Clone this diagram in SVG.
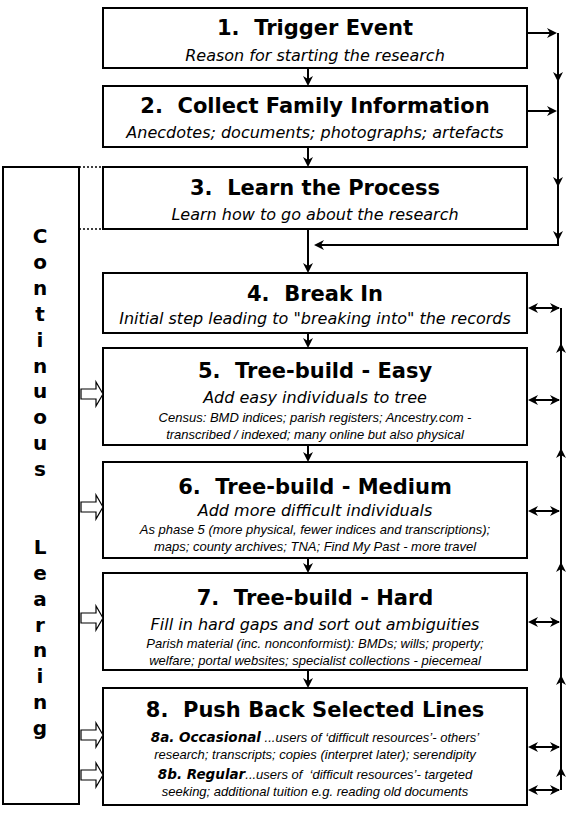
<svg xmlns="http://www.w3.org/2000/svg" xmlns:xlink="http://www.w3.org/1999/xlink" width="570" height="813" viewBox="0 0 570 813">
<style>
.box{fill:#fff;stroke:#000;stroke-width:2}
.t{font-family:"DejaVu Sans",Verdana,sans-serif;font-weight:bold;font-size:21px;text-anchor:middle;fill:#000;white-space:pre}
.s{font-family:"DejaVu Sans",Verdana,sans-serif;font-style:italic;font-size:16px;text-anchor:middle;fill:#000}
.d{font-family:"Liberation Sans",Arial,sans-serif;font-style:italic;font-size:13px;text-anchor:middle;fill:#000;white-space:pre}
.b{font-family:"DejaVu Sans",Verdana,sans-serif;font-style:italic;font-weight:bold;font-size:13.5px}
.v{font-family:"DejaVu Sans",Verdana,sans-serif;font-weight:bold;font-size:20px;text-anchor:middle;fill:#000}
.ln{stroke:#000;stroke-width:2;fill:none}
.dot{stroke:#000;stroke-width:1.5;stroke-dasharray:2 2;fill:none}
.ho{fill:#fff;stroke:#000;stroke-width:1.2}
</style>
<defs>
<path id="ah" d="M0,0 L-10,-5 L-7,0 L-10,5 Z" fill="#000"/>
</defs>
<rect width="570" height="813" fill="#fff"/>

<g id="learning">
<rect class="box" x="3" y="167" width="76" height="637"/>
<text class="v" x="40" y="243">C</text>
<text class="v" x="40" y="268.9">o</text>
<text class="v" x="40" y="294.8">n</text>
<text class="v" x="40" y="320.7">t</text>
<text class="v" x="40" y="346.6">i</text>
<text class="v" x="40" y="372.5">n</text>
<text class="v" x="40" y="398.4">u</text>
<text class="v" x="40" y="424.3">o</text>
<text class="v" x="40" y="450.2">u</text>
<text class="v" x="40" y="476.1">s</text>
<text class="v" x="40" y="553.8">L</text>
<text class="v" x="40" y="579.7">e</text>
<text class="v" x="40" y="605.6">a</text>
<text class="v" x="40" y="631.5">r</text>
<text class="v" x="40" y="657.4">n</text>
<text class="v" x="40" y="683.3">i</text>
<text class="v" x="40" y="709.2">n</text>
<text class="v" x="40" y="735.1">g</text>
</g>

<g id="n1">
<rect class="box" x="103" y="8" width="424" height="60"/>
<text class="t" x="315" y="35">1.  Trigger Event</text>
<text class="s" x="315" y="61">Reason for starting the research</text>
</g>
<g id="n2">
<rect class="box" x="103" y="86" width="424" height="61"/>
<text class="t" x="315" y="113">2.  Collect Family Information</text>
<text class="s" x="315" y="138">Anecdotes; documents; photographs; artefacts</text>
</g>
<g id="n3">
<rect class="box" x="103" y="167" width="424" height="62"/>
<text class="t" x="315" y="195">3.  Learn the Process</text>
<text class="s" x="315" y="220">Learn how to go about the research</text>
</g>
<g id="n4">
<rect class="box" x="103" y="273" width="424" height="60"/>
<text class="t" x="315" y="301">4.  Break In</text>
<text class="s" x="315" y="324">Initial step leading to "breaking into" the records</text>
</g>
<g id="n5">
<rect class="box" x="103" y="348" width="424" height="97"/>
<text class="t" x="315" y="378">5.  Tree-build - Easy</text>
<text class="s" x="315" y="403">Add easy individuals to tree</text>
<text class="d" x="315" y="422">Census: BMD indices; parish registers; Ancestry.com -</text>
<text class="d" x="315" y="439">transcribed / indexed; many online but also physical</text>
</g>
<g id="n6">
<rect class="box" x="103" y="462" width="424" height="96"/>
<text class="t" x="315" y="494">6.  Tree-build - Medium</text>
<text class="s" x="315" y="516">Add more difficult individuals</text>
<text class="d" x="315" y="534">As phase 5 (more physical, fewer indices and transcriptions);</text>
<text class="d" x="315" y="551">maps; county archives; TNA; Find My Past - more travel</text>
</g>
<g id="n7">
<rect class="box" x="103" y="573" width="424" height="97"/>
<text class="t" x="315" y="605">7.  Tree-build - Hard</text>
<text class="s" x="315" y="630">Fill in hard gaps and sort out ambiguities</text>
<text class="d" x="315" y="648">Parish material (inc. nonconformist): BMDs; wills; property;</text>
<text class="d" x="315" y="665">welfare; portal websites; specialist collections - piecemeal</text>
</g>
<g id="n8">
<rect class="box" x="103" y="688" width="424" height="117"/>
<text class="t" x="315" y="717">8.  Push Back Selected Lines</text>
<text class="d" x="315" y="742"><tspan class="b">8a. Occasional</tspan> ...users of ‘difficult resources’- others’</text>
<text class="d" x="315" y="759">research; transcripts; copies (interpret later); serendipity</text>
<text class="d" x="315" y="779"><tspan class="b">8b. Regular</tspan>...users of  ‘difficult resources’- targeted</text>
<text class="d" x="315" y="796">seeking; additional tuition e.g. reading old documents</text>
</g>

<g id="connectors">
<path class="dot" d="M79,167 H103 M79,229 H103"/>
<path class="ln" d="M308,68 V84 M308,147 V165 M308,229 V271 M308,333 V346 M308,445 V460 M308,558 V571 M308,670 V686"/>
<use xlink:href="#ah" transform="translate(308,86) rotate(90)"/>
<use xlink:href="#ah" transform="translate(308,167) rotate(90)"/>
<use xlink:href="#ah" transform="translate(308,273) rotate(90)"/>
<use xlink:href="#ah" transform="translate(308,348) rotate(90)"/>
<use xlink:href="#ah" transform="translate(308,462) rotate(90)"/>
<use xlink:href="#ah" transform="translate(308,573) rotate(90)"/>
<use xlink:href="#ah" transform="translate(308,688) rotate(90)"/>

<path class="ln" d="M527,33 H555 M527,111 H555 M558,33 V245 H318"/>
<use xlink:href="#ah" transform="translate(557,33)"/>
<use xlink:href="#ah" transform="translate(557,111)"/>
<use xlink:href="#ah" transform="translate(558,82) rotate(90)"/>
<use xlink:href="#ah" transform="translate(558,187) rotate(90)"/>
<use xlink:href="#ah" transform="translate(558,241) rotate(90)"/>
<use xlink:href="#ah" transform="translate(314,245) rotate(180)"/>

<path class="ln" d="M561,308 V790 M530,308 H559 M530,400 H559 M530,511 H559 M530,622 H559 M530,747 H559 M530,790 H559"/>
<use xlink:href="#ah" transform="translate(528,308) rotate(180)"/>
<use xlink:href="#ah" transform="translate(560,308)"/>
<use xlink:href="#ah" transform="translate(528,400) rotate(180)"/>
<use xlink:href="#ah" transform="translate(560,400)"/>
<use xlink:href="#ah" transform="translate(528,511) rotate(180)"/>
<use xlink:href="#ah" transform="translate(560,511)"/>
<use xlink:href="#ah" transform="translate(528,622) rotate(180)"/>
<use xlink:href="#ah" transform="translate(560,622)"/>
<use xlink:href="#ah" transform="translate(528,747) rotate(180)"/>
<use xlink:href="#ah" transform="translate(560,747)"/>
<use xlink:href="#ah" transform="translate(528,790) rotate(180)"/>
<use xlink:href="#ah" transform="translate(560,790)"/>
<use xlink:href="#ah" transform="translate(561,343) rotate(-90)"/>
<use xlink:href="#ah" transform="translate(561,448) rotate(-90)"/>
<use xlink:href="#ah" transform="translate(561,562) rotate(-90)"/>
<use xlink:href="#ah" transform="translate(561,675) rotate(-90)"/>
<use xlink:href="#ah" transform="translate(561,767) rotate(-90)"/>

<path class="ho" d="M81,389 H96 V382 L103,394 L96,406 V399 H81 Z"/>
<path class="ho" d="M81,502 H96 V495 L103,507 L96,519 V512 H81 Z"/>
<path class="ho" d="M81,613 H96 V606 L103,618 L96,630 V623 H81 Z"/>
<path class="ho" d="M81,730 H96 V723 L103,735 L96,747 V740 H81 Z"/>
<path class="ho" d="M81,770 H96 V763 L103,775 L96,787 V780 H81 Z"/>
</g>
</svg>
